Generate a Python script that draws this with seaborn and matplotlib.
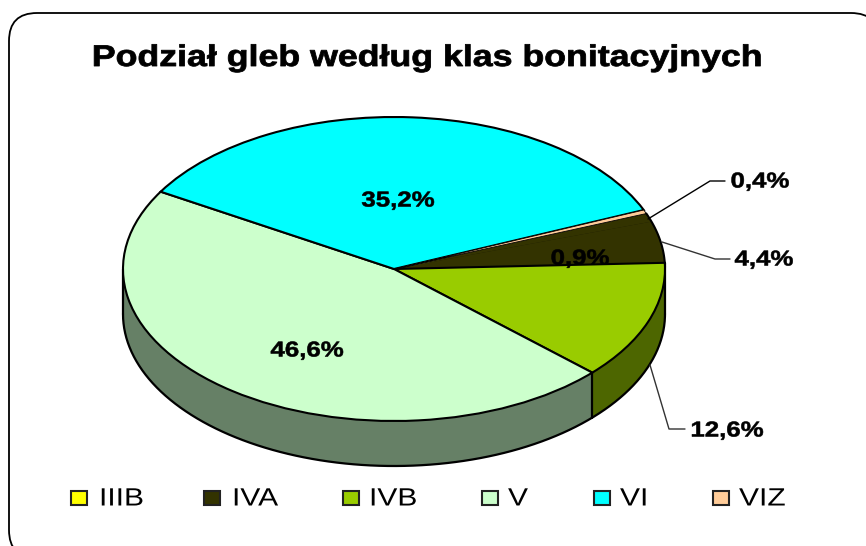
import numpy as np
import matplotlib
matplotlib.use("Agg")
import matplotlib.pyplot as plt
import matplotlib.patheffects as pe
from matplotlib.patches import FancyBboxPatch, Rectangle
from matplotlib.transforms import Affine2D
import seaborn as sns

# dane
klasy = ["IIIB", "IVA", "IVB", "V", "VI", "VIZ"]
udzialy = [0.9, 4.4, 12.6, 46.6, 35.2, 0.4]
etykiety = ["0,9%", "4,4%", "12,6%", "46,6%", "35,2%", "0,4%"]
kolory_legendy = ["#FFFF00", "#333300", "#99CC00", "#CCFFCC", "#00FFFF", "#FFCC99"]
# na wykresie wycinek IIIB ma ciemny kolor, nie zolty
kolory_wycinkow = ["#333300", "#333300", "#99CC00", "#CCFFCC", "#00FFFF", "#FFCC99"]
kolory_boku = ["#1A1A00", "#1A1A00", "#4D6600", "#668066", "#008080", "#806650"]

sns.set_theme(style="white")
plt.rcParams["font.family"] = ["Liberation Sans", "DejaVu Sans"]

W, H = 866, 546
CX, CY, RX, RY, GLEB = 394, 269, 271, 152, 45
START = 21.4


class Rozciagnij(pe.AbstractPathEffect):
    # tekst w oryginale jest rozciagniety w poziomie i pogrubiony
    def __init__(self, x0, sx, gr=0):
        super().__init__()
        self.x0, self.sx, self.gr = x0, sx, gr

    def draw_path(self, renderer, gc, tpath, affine, rgbFace=None):
        skala = Affine2D().translate(-self.x0, 0).scale(self.sx, 1).translate(self.x0, 0)
        gc2 = renderer.new_gc()
        gc2.copy_properties(gc)
        gc2.set_foreground("black")
        gc2.set_linewidth(self.gr)
        renderer.draw_path(gc2, tpath, affine + skala, rgbFace)
        gc2.restore()


def napis(ax, x, y, s, sx=1.2, gr=0, **kw):
    return ax.text(x, y, s, va="center", color="black", path_effects=[Rozciagnij(x, sx, gr)], **kw)


fig = plt.figure(figsize=(W / 100, H / 100), dpi=100)

# ramka pod wszystkim
tlo = fig.add_axes([0, 0, 1, 1])
tlo.set_xlim(0, W)
tlo.set_ylim(H, 0)
tlo.axis("off")
R = 28
tlo.add_patch(FancyBboxPatch((9 + R, 13 + R), 870 - 2 * R, 545 - 2 * R,
                             boxstyle=f"round,pad={R},rounding_size={R}",
                             fc="white", ec="black", lw=1.3))

ax = fig.add_axes([0, 0, 1, 1], facecolor="none")

# bok "3D" - stos przesunietych kolek
for px in range(GLEB, 0, -1):
    ax.pie(udzialy, colors=kolory_boku, startangle=START, counterclock=False,
           center=(0, -px / RY), wedgeprops={"linewidth": 0.6, "edgecolor": "none", "zorder": 1})
t = np.radians(np.linspace(180, 360, 200))
d = GLEB / RY
ax.plot(np.cos(t), np.sin(t) - d, color="black", lw=1.6, zorder=2)
ax.plot([-1, -1], [0, -d], color="black", lw=1.6, zorder=2)
ax.plot([1, 1], [0.04, -d], color="black", lw=1.6, zorder=2)
granice = START - np.cumsum(udzialy) / np.sum(udzialy) * 360
for g in np.radians(granice):
    if np.sin(g) < 0:
        ax.plot([np.cos(g)] * 2, [np.sin(g), np.sin(g) - d], color="black", lw=1.6, zorder=2)

# gorna powierzchnia
wedges, _ = ax.pie(udzialy, colors=kolory_wycinkow, startangle=START, counterclock=False,
                   wedgeprops={"linewidth": 1.5, "edgecolor": "black", "zorder": 3})
# IIIB i IVA zlewaja sie w jeden ciemny wycinek, bez linii miedzy nimi
wedges[0].set_edgecolor("none")
wedges[1].set_edgecolor("none")
wedges[5].set_linewidth(0.6)
tr = np.radians(np.linspace(START, granice[1], 30))
ax.plot(np.cos(tr), np.sin(tr), color="black", lw=1.5, zorder=4)

# kolko -> elipsa: osie na cala figure
ax.set_aspect("auto")
ax.set_xlim(-CX / RX, (W - CX) / RX)
ax.set_ylim((CY - H) / RY, CY / RY)
ax.set_position([0, 0, 1, 1])

# nakladka w pikselach
ov = fig.add_axes([0, 0, 1, 1], facecolor="none")
ov.set_xlim(0, W)
ov.set_ylim(H, 0)
ov.axis("off")

napis(ov, 427.5, 58, "Podział gleb według klas bonitacyjnych", sx=1.196, gr=0.6, ha="center",
      fontsize=21.5, fontweight="bold")

# etykiety na wycinkach
poz_etykiet = {"0,9%": (580, 259), "46,6%": (307, 351), "35,2%": (398, 201),
               "0,4%": (760, 182), "4,4%": (764, 260), "12,6%": (727, 431)}
for e in etykiety:
    x, y = poz_etykiet[e]
    napis(ov, x, y, e, sx=1.2, gr=0.4, ha="center", fontsize=15.5, fontweight="bold")

# linie odniesienia
ov.plot([648, 710, 725], [219, 181, 181], color="black", lw=1)
ov.plot([662, 715, 730], [242, 259, 259], color="#333333", lw=1)
ov.plot([650, 669, 685], [365, 429, 429], color="#333333", lw=1)

# legenda
x_kw = [71, 203.5, 342.5, 481.5, 594, 713]
x_tx = [99, 232, 369, 508, 620, 739]
for k, kol, xk, xt in zip(klasy, kolory_legendy, x_kw, x_tx):
    ov.add_patch(Rectangle((xk, 491), 16, 13.5, fc=kol, ec="#222222", lw=1.5))
    napis(ov, xt, 498.5, k, sx=1.2, ha="left", fontsize=18)

fig.savefig("out.png", dpi=100)
